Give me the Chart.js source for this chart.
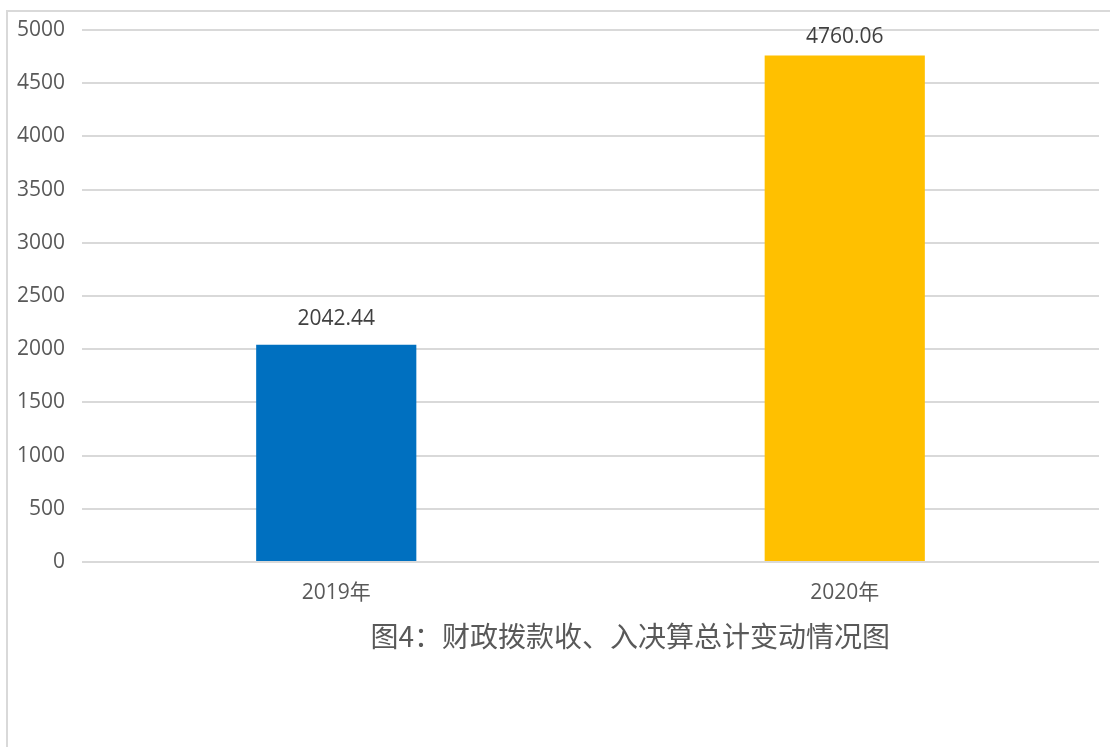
<!DOCTYPE html>
<html>
<head>
<meta charset="utf-8">
<script src="https://cdn.jsdelivr.net/npm/chart.js@4.4.1/dist/chart.umd.min.js"></script>
<style>
html,body{margin:0;padding:0;background:#fff;}
#wrap{width:1110px;height:747px;position:relative;}
</style>
</head>
<body>
<div id="wrap"><canvas id="c" width="1110" height="747"></canvas></div>
<script>
const categories = ["2019年", "2020年"];
const values = [2042.44, 4760.06];
const valueLabels = ["2042.44", "4760.06"];
const barColors = ["#0070C0", "#FFC000"];
const yTicks = [0, 500, 1000, 1500, 2000, 2500, 3000, 3500, 4000, 4500, 5000];
const titleText = "图4：财政拨款收、入决算总计变动情况图";

const FONT = '"Open Sans", "Noto Sans CJK SC", sans-serif';

const framePlugin = {
  id: 'frame',
  beforeDraw(chart) {
    const ctx = chart.ctx;
    ctx.save();
    ctx.fillStyle = '#ffffff';
    ctx.fillRect(0, 0, chart.width, chart.height);
    ctx.strokeStyle = '#d9d9d9';
    ctx.lineWidth = 2;
    ctx.beginPath();
    ctx.moveTo(7, chart.height);
    ctx.lineTo(7, 11);
    ctx.lineTo(chart.width, 11);
    ctx.stroke();
    ctx.restore();
  },
  afterDatasetsDraw(chart) {
    const ctx = chart.ctx;
    const meta = chart.getDatasetMeta(0);
    const ca = chart.chartArea;
    ctx.save();
    ctx.font = '21px ' + FONT;
    ctx.fillStyle = '#404040';
    ctx.textAlign = 'center';
    ctx.textBaseline = 'middle';
    meta.data.forEach((bar, i) => {
      ctx.fillText(valueLabels[i], bar.x, Math.max(ca.top + 7, bar.y - 26));
    });
    ctx.font = '28px "Noto Sans CJK SC", sans-serif';
    ctx.fillStyle = '#595959';
    ctx.fillText(titleText, ca.left + (ca.right - ca.left) * 0.539, ca.bottom + 74);
    ctx.restore();
  }
};

new Chart(document.getElementById('c'), {
  type: 'bar',
  data: {
    labels: categories,
    datasets: [{
      data: values,
      backgroundColor: barColors,
      borderWidth: 0,
      categoryPercentage: 1,
      barPercentage: 0.315
    }]
  },
  options: {
    responsive: false,
    animation: false,
    devicePixelRatio: 1,
    layout: { padding: { top: 30, right: 11, left: 0, bottom: 0 } },
    plugins: {
      legend: { display: false },
      tooltip: { enabled: false },
      title: { display: false }
    },
    scales: {
      x: {
        grid: { display: false, drawTicks: false },
        border: { display: false },
        ticks: { color: '#595959', font: { size: 21, family: FONT }, padding: 18 },
        afterFit(scale) { scale.height = 185; }
      },
      y: {
        min: 0,
        max: 5000,
        afterBuildTicks(scale) { scale.ticks = yTicks.map(v => ({ value: v })); },
        grid: { color: '#d9d9d9', lineWidth: 2, drawTicks: false },
        border: { display: false },
        ticks: {
          color: '#595959',
          font: { size: 21, family: FONT },
          padding: 17,
          callback: (v) => String(v)
        },
        afterFit(scale) { scale.width = 82; }
      }
    }
  },
  plugins: [framePlugin]
});
</script>
</body>
</html>
